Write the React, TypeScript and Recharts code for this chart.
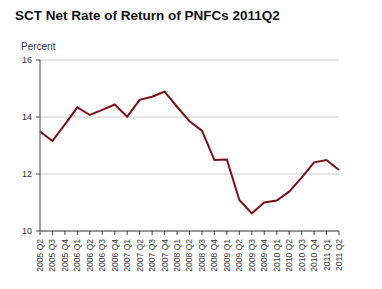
import React from 'react';
import { LineChart, Line, XAxis, YAxis, CartesianGrid } from 'recharts';

const quarters = [
  '2005 Q2', '2005 Q3', '2005 Q4',
  '2006 Q1', '2006 Q2', '2006 Q3', '2006 Q4',
  '2007 Q1', '2007 Q2', '2007 Q3', '2007 Q4',
  '2008 Q1', '2008 Q2', '2008 Q3', '2008 Q4',
  '2009 Q1', '2009 Q2', '2009 Q3', '2009 Q4',
  '2010 Q1', '2010 Q2', '2010 Q3', '2010 Q4',
  '2011 Q1', '2011 Q2',
];

const rateOfReturn = [
  13.49, 13.16, 13.74,
  14.34, 14.07, 14.25, 14.44,
  14.01, 14.6, 14.71, 14.89,
  14.36, 13.85, 13.52, 12.49,
  12.51, 11.09, 10.62, 11.0,
  11.07, 11.38, 11.87, 12.41,
  12.49, 12.14,
];

const yTicks = [10, 12, 14, 16];

const data = quarters.map((q, i) => ({ q, value: rateOfReturn[i] }));

const font = '"Liberation Sans", Arial, sans-serif';

const QuarterTick = (props: any) => {
  const { x, y, payload } = props;
  return (
    <text
      x={x}
      y={y + 2}
      dy="0.35em"
      textAnchor="end"
      transform={`rotate(-90, ${x}, ${y + 2})`}
      fontSize={8.5}
      fill="#333"
      fontFamily={font}
    >
      {payload.value}
    </text>
  );
};

export default function App() {
  return (
    <div style={{ position: 'absolute', left: 0, top: 0, width: 382, height: 289, background: '#fff', fontFamily: font }}>
      <div style={{ position: 'absolute', left: 15, top: 8, fontSize: 13.5, fontWeight: 'bold', color: '#111', whiteSpace: 'nowrap' }}>
        SCT Net Rate of Return of PNFCs 2011Q2
      </div>
      <div style={{ position: 'absolute', left: 21, top: 41, fontSize: 10, color: '#333' }}>Percent</div>
      <LineChart width={382} height={289} data={data} margin={{ top: 60, right: 43, bottom: 0, left: 10 }}>
        <CartesianGrid vertical={false} stroke="#ccc" />
        <XAxis
          dataKey="q"
          interval={0}
          height={58}
          tickSize={4}
          stroke="#444"
          tick={<QuarterTick />}
        />
        <YAxis
          domain={[10, 16]}
          ticks={yTicks}
          width={30}
          tickSize={4}
          tickMargin={4}
          stroke="#444"
          tick={{ fontSize: 9, fill: '#333', fontFamily: font }}
        />
        <Line
          dataKey="value"
          stroke="#7a1016"
          strokeWidth={2}
          dot={false}
          isAnimationActive={false}
        />
      </LineChart>
    </div>
  );
}
